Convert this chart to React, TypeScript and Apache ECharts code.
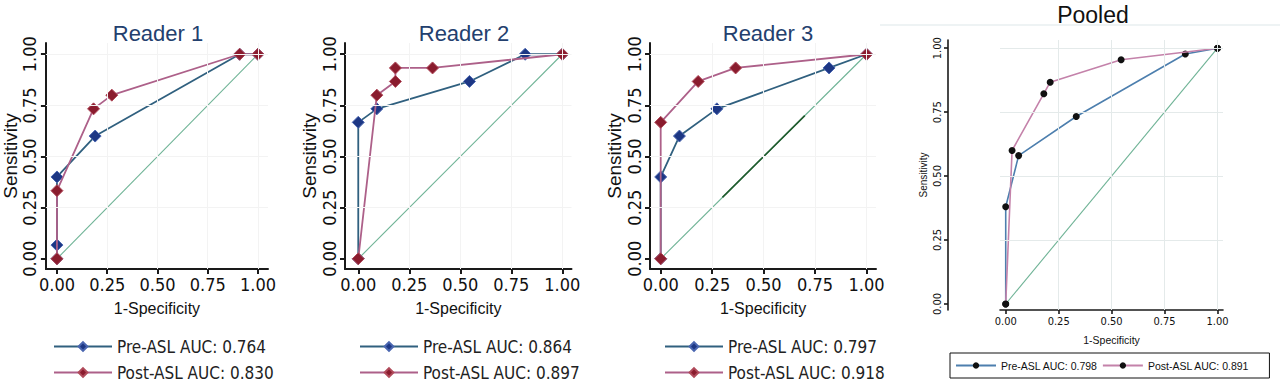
import React, { useEffect, useRef } from "react";
import * as echarts from "echarts";

// ---- data ----
const TICKS = [0, 0.25, 0.5, 0.75, 1];
const PANEL_TITLES = ["Reader 1", "Reader 2", "Reader 3", "Pooled"];
const PRE_LABELS = ["Pre-ASL AUC: 0.764", "Pre-ASL AUC: 0.864", "Pre-ASL AUC: 0.797", "Pre-ASL AUC: 0.798"];
const POST_LABELS = ["Post-ASL AUC: 0.830", "Post-ASL AUC: 0.897", "Post-ASL AUC: 0.918", "Post-ASL AUC: 0.891"];

const reader1Pre = [[0, 0], [0, 0.067], [0, 0.4], [0.19, 0.6], [0.909, 1], [1, 1]];
const reader1Post = [[0, 0], [0, 0.333], [0.182, 0.733], [0.273, 0.8], [0.909, 1], [1, 1]];
const reader2Pre = [[0, 0], [0, 0.667], [0.091, 0.733], [0.545, 0.867], [0.818, 1], [1, 1]];
const reader2Post = [[0, 0], [0.091, 0.8], [0.182, 0.867], [0.182, 0.933], [0.364, 0.933], [1, 1]];
const reader3Pre = [[0, 0], [0, 0.4], [0.091, 0.6], [0.273, 0.733], [0.818, 0.933], [1, 1]];
const reader3Post = [[0, 0], [0, 0.667], [0.182, 0.867], [0.364, 0.933], [1, 1]];
const pooledPre = [[0, 0], [0, 0.38], [0.061, 0.58], [0.333, 0.733], [0.848, 0.977], [1, 1]];
const pooledPost = [[0, 0], [0.03, 0.6], [0.18, 0.822], [0.21, 0.867], [0.545, 0.955], [1, 1]];
const diagonal = [[0, 0], [1, 1]];
const reader3DiagonalDark = [[0.3, 0.3], [0.7, 0.7]];

const PRE_SERIES = [reader1Pre, reader2Pre, reader3Pre, pooledPre];
const POST_SERIES = [reader1Post, reader2Post, reader3Post, pooledPost];

// ---- layout / style ----
const NARROW = "'Liberation Sans Narrow', 'Arial Narrow', 'DejaVu Sans Condensed', 'Liberation Sans', sans-serif";
const SANS = "'Liberation Sans', Arial, sans-serif";

const GRIDS = [
  { left: 42, top: 43, width: 226, height: 226, xMin: -0.055, xMax: 1.05, yMin: -0.05, yMax: 1.055 },
  { left: 345, top: 43, width: 226.5, height: 226, xMin: -0.065, xMax: 1.045, yMin: -0.05, yMax: 1.055 },
  { left: 650, top: 43, width: 226, height: 226, xMin: -0.052, xMax: 1.046, yMin: -0.05, yMax: 1.055 },
  { left: 1000, top: 40, width: 223, height: 270, xMin: -0.027, xMax: 1.026, yMin: -0.0235, yMax: 1.032 },
];

const PRE_LINE = ["#30607f", "#30607f", "#30607f", "#4d7fae"];
const POST_LINE = ["#ad6089", "#ad6089", "#ad6089", "#c482aa"];
const PRE_MARK = "#1d3784";
const POST_MARK = "#8a1c2e";

export default function App() {
  const ref = useRef<HTMLDivElement>(null);
  useEffect(() => {
    if (!ref.current) return;
    const chart = echarts.init(ref.current, undefined, { renderer: "svg" });

    const grid: any[] = [];
    const xAxis: any[] = [];
    const yAxis: any[] = [];
    const series: any[] = [];
    const legend: any[] = [];
    const title: any[] = [];

    GRIDS.forEach((g, i) => {
      const pooled = i === 3;
      grid.push({ left: g.left, top: g.top, width: g.width, height: g.height, containLabel: false });
      const axisLineStyle = { color: "#1a1a1a", width: pooled ? 1.6 : 2 };
      xAxis.push({
        type: "value",
        gridIndex: i,
        min: g.xMin,
        max: g.xMax,
        axisLine: { show: true, onZero: false, lineStyle: axisLineStyle },
        axisTick: { show: true, length: pooled ? 4 : 5, customValues: TICKS, lineStyle: axisLineStyle },
        axisLabel: {
          customValues: TICKS,
          formatter: (v: number) => v.toFixed(2),
          fontFamily: NARROW,
          fontSize: pooled ? 11 : 18,
          color: "#111",
          margin: 6,
        },
        splitLine: { show: false },
        name: "1-Specificity",
        nameLocation: "middle",
        nameGap: pooled ? 24 : 31,
        nameTextStyle: { fontFamily: SANS, fontSize: pooled ? 10.5 : 16, color: "#111" },
      });
      yAxis.push({
        type: "value",
        gridIndex: i,
        min: g.yMin,
        max: g.yMax,
        offset: pooled ? 52 : 0,
        axisLine: { show: true, onZero: false, lineStyle: axisLineStyle },
        axisTick: { show: true, length: pooled ? 4 : 5, customValues: TICKS, lineStyle: axisLineStyle },
        axisLabel: {
          customValues: TICKS,
          rotate: 90,
          formatter: (v: number) => v.toFixed(2),
          fontFamily: NARROW,
          fontSize: pooled ? 11 : 18,
          color: "#111",
          margin: pooled ? 5 : 7,
        },
        splitLine: { show: false },
        name: "Sensitivity",
        nameLocation: "middle",
        nameGap: pooled ? 20 : 17,
        nameTextStyle: { fontFamily: SANS, fontSize: pooled ? 10 : 19, color: "#111" },
      });

      // faint grid lines and chance diagonal
      const gridColor = pooled ? "#e4eaea" : "#f3f3f3";
      series.push({
        type: "line",
        xAxisIndex: i,
        yAxisIndex: i,
        data: diagonal,
        symbol: "none",
        lineStyle: { color: "#6fb396", width: 1.1 },
        silent: true,
        z: 1,
        markLine: {
          silent: true,
          symbol: "none",
          label: { show: false },
          lineStyle: { color: gridColor, width: 1, type: "solid" },
          data: [
            ...TICKS.slice(1).map((t) => ({ xAxis: t })),
            ...TICKS.slice(1).map((t) => ({ yAxis: t })),
          ],
        },
      });
      if (i === 2) {
        series.push({
          type: "line",
          xAxisIndex: i,
          yAxisIndex: i,
          data: reader3DiagonalDark,
          symbol: "none",
          lineStyle: { color: "#1f5a2c", width: 1.6 },
          silent: true,
          z: 2,
        });
      }
      series.push({
        type: "line",
        name: PRE_LABELS[i],
        xAxisIndex: i,
        yAxisIndex: i,
        data: PRE_SERIES[i],
        symbol: pooled ? "circle" : "diamond",
        symbolSize: pooled ? 7 : 12,
        lineStyle: { color: PRE_LINE[i], width: pooled ? 1.6 : 1.8 },
        itemStyle: pooled
          ? { color: "#111", borderWidth: 0 }
          : { color: PRE_MARK, borderColor: "#4a66b0", borderWidth: 1 },
        z: 3,
      });
      series.push({
        type: "line",
        name: POST_LABELS[i],
        xAxisIndex: i,
        yAxisIndex: i,
        data: POST_SERIES[i],
        symbol: pooled ? "circle" : "diamond",
        symbolSize: pooled ? 7 : 12,
        lineStyle: { color: POST_LINE[i], width: pooled ? 1.6 : 1.8 },
        itemStyle: pooled
          ? { color: "#111", borderWidth: 0 }
          : { color: POST_MARK, borderColor: "#b04a5a", borderWidth: 1 },
        z: 4,
      });

      if (!pooled) {
        legend.push({
          data: [PRE_LABELS[i], POST_LABELS[i]],
          orient: "vertical",
          left: g.left + (i === 0 ? 11 : 14),
          top: 338,
          itemWidth: 58,
          itemHeight: 11,
          itemGap: 9,
          padding: 0,
          selectedMode: false,
          textStyle: { fontFamily: NARROW, fontSize: 17, lineHeight: 17, color: "#222" },
        });
        title.push({
          text: PANEL_TITLES[i],
          left: g.left + (i === 0 ? 111 : i === 1 ? 114 : 113),
          top: 17,
          textAlign: "center",
          textStyle: { fontFamily: SANS, fontSize: 22, fontWeight: "normal", color: "#23406e" },
        });
      } else {
        legend.push({
          data: [PRE_LABELS[i], POST_LABELS[i]],
          orient: "horizontal",
          left: 950,
          top: 353,
          itemWidth: 40,
          itemHeight: 8,
          itemGap: 4,
          padding: [7, 20, 7, 5],
          borderColor: "#111",
          borderWidth: 1,
          selectedMode: false,
          textStyle: { fontFamily: SANS, fontSize: 10.5, lineHeight: 10, color: "#111" },
        });
        title.push({
          text: PANEL_TITLES[i],
          left: 1088,
          top: -2,
          textAlign: "center",
          textStyle: { fontFamily: SANS, fontSize: 23, fontWeight: "normal", color: "#111" },
        });
      }
    });

    chart.setOption({
      animation: false,
      backgroundColor: "#ffffff",
      title,
      legend,
      grid,
      xAxis,
      yAxis,
      series,
      graphic: [
        {
          type: "line",
          shape: { x1: 880, y1: 25, x2: 1280, y2: 25 },
          style: { stroke: "#e8eff1", lineWidth: 1.5 },
          silent: true,
        },
      ],
    });
    return () => chart.dispose();
  }, []);
  return <div ref={ref} style={{ position: "fixed", left: 0, top: 0, width: 1280, height: 386 }} />;
}
